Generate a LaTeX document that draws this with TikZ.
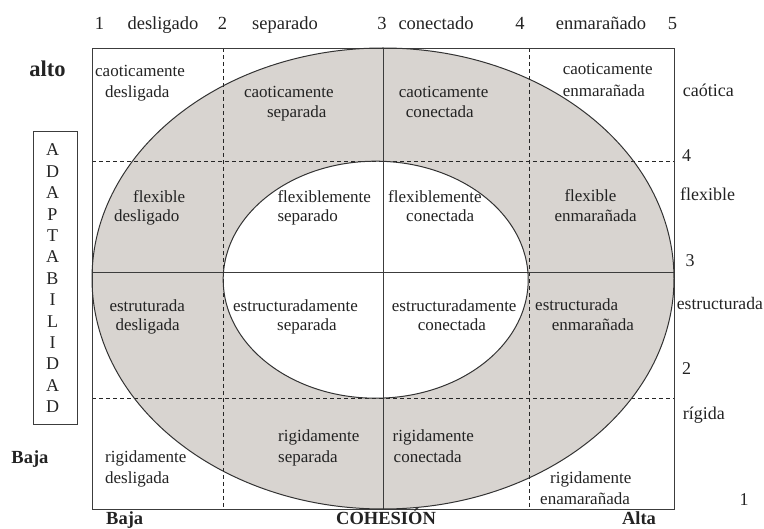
\documentclass[tikz,border=0pt]{standalone}
\usepackage{fontspec}
\setmainfont{Liberation Serif}
\definecolor{ringgray}{RGB}{216,212,208}
\definecolor{linegray}{RGB}{60,60,60}
\definecolor{txtgray}{RGB}{35,35,35}
\newcommand\mycell[8]{%
  \node[celltxt] (#1a) at (#2+#3,#7) {#4};
  \node[celltxt] (#1b) at (#2+#5,#8) {#6};}
\begin{document}
\begin{tikzpicture}[x=1pt,y=-1pt,
  celltxt/.style={anchor=base west, inner sep=0pt, text=txtgray, font=\fontsize{17}{20}\selectfont},
  toplbl/.style={anchor=base, inner sep=0pt, text=txtgray, font=\fontsize{18.5}{22}\selectfont},
  sidelbl/.style={anchor=base west, inner sep=0pt, text=txtgray, font=\fontsize{18}{22}\selectfont},
  sidenum/.style={anchor=base, inner sep=0pt, text=txtgray, font=\fontsize{18}{22}\selectfont},
  boldlbl/.style={anchor=base, inner sep=0pt, text=txtgray, font=\fontsize{18.5}{22}\selectfont\bfseries},
  gridsolid/.style={linegray, line width=0.9pt},
  griddash/.style={black!85, line width=0.9pt, dash pattern=on 4pt off 3pt},
  ringline/.style={black!80, line width=1pt}]
\useasboundingbox (0,0) rectangle (764,529);
% grid coordinates
\coordinate (TL) at (92,48);
\coordinate (BR) at (674.5,509);
\coordinate (v1t) at (223.5,48);  \coordinate (v1b) at (223.5,509);
\coordinate (v2t) at (383,48);    \coordinate (v2b) at (383,509);
\coordinate (v3t) at (529,48);    \coordinate (v3b) at (529,509);
\coordinate (h1l) at (92,161.5);  \coordinate (h1r) at (674.5,161.5);
\coordinate (h2l) at (92,272);    \coordinate (h2r) at (674.5,272);
\coordinate (h3l) at (92,398);    \coordinate (h3r) at (674.5,398);
% ring
\fill[ringgray, even odd rule] (383,278.5) ellipse [x radius=291pt, y radius=230.5pt]
  (375.7,279.7) ellipse [x radius=152.5pt, y radius=118.5pt];
% grid lines
\draw[griddash] (v1t) -- (v1b);
\draw[griddash] (v3t) -- (v3b);
\draw[griddash] (h1l) -- (h1r);
\draw[griddash] (h3l) -- (h3r);
\draw[gridsolid] (v2t) -- (v2b);
\draw[gridsolid] (h2l) -- (h2r);
\draw[gridsolid] (TL) rectangle (BR);
% ellipse outlines
\draw[ringline] (383,278.5) ellipse [x radius=291pt, y radius=230.5pt];
\draw[ringline] (375.7,279.7) ellipse [x radius=152.5pt, y radius=118.5pt];
% cells
\mycell{cd}{95}{0}{caoticamente}{10}{desligada}{77}{98}
\mycell{cs}{243.8}{0}{caoticamente}{23}{separada}{98}{118}
\mycell{cc}{398.6}{0}{caoticamente}{7}{conectada}{98}{118}
\mycell{ce}{562.7}{0}{caoticamente}{0}{enmarañada}{75}{97}
\mycell{fd}{114}{19}{flexible}{0}{desligado}{203}{222}
\mycell{fs}{277.3}{0}{flexiblemente}{0}{separado}{203}{222}
\mycell{fc}{388}{0}{flexiblemente}{18}{conectada}{203}{222}
\mycell{fe}{554.3}{10}{flexible}{0}{enmarañada}{202}{222}
\mycell{ed}{109.3}{0}{estruturada}{6}{desligada}{312}{331}
\mycell{es}{233}{0}{estructuradamente}{44}{separada}{312}{331}
\mycell{ec}{391.7}{0}{estructuradamente}{26}{conectada}{312}{331}
\mycell{ee}{535}{0}{estructurada}{16.7}{enmarañada}{311}{331}
\mycell{rd}{105}{0}{rigidamente}{0}{desligada}{463}{484}
\mycell{rs}{278}{0}{rigidamente}{0}{separada}{442}{463}
\mycell{rc}{392.5}{0}{rigidamente}{1}{conectada}{442}{463}
\mycell{re}{540}{10}{rigidamente}{0}{enamarañada}{484}{505}
% top scale
\node[toplbl] (t1) at (99.5,30) {1};
\node[toplbl] (tdes) at (163,30) {desligado};
\node[toplbl] (t2) at (222.5,30) {2};
\node[toplbl] (tsep) at (285,30) {separado};
\node[toplbl] (t3) at (382,30) {3};
\node[toplbl] (tcon) at (436,30) {conectado};
\node[toplbl] (t4) at (520,30) {4};
\node[toplbl] (tenm) at (601,30) {enmarañado};
\node[toplbl] (t5) at (672.5,30) {5};
% right scale
\node[sidelbl] (rcao) at (682.7,97) {caótica};
\node[sidenum] (r4) at (686.6,162) {4};
\node[sidelbl] (rflex) at (680,201) {flexible};
\node[sidenum] (r3) at (690,267) {3};
\node[sidelbl, font=\fontsize{17.6}{22}\selectfont] (rest) at (676.7,310) {estructurada};
\node[sidenum] (r2) at (686.6,375) {2};
\node[sidelbl] (rrig) at (682.7,420) {rígida};
\node[sidenum] (r1) at (744,506) {1};
% bold labels
\node[boldlbl, font=\fontsize{22.5}{26}\selectfont\bfseries] (alto) at (47.5,77) {alto};
\node[boldlbl] (bajaL) at (30,464) {Baja};
\node[boldlbl] (bajaB) at (124.7,525) {Baja};
\node[boldlbl] (cohesion) at (386,525) {COHESIÓN};
\node[boldlbl] (alta) at (639,525) {Alta};
% ADAPTABILIDAD
\node[draw=linegray, line width=0.9pt, minimum width=44pt, minimum height=293.3pt, inner sep=0pt] (adaptbox) at (55.3,278.3) {};
\foreach \ch [count=\i from 0] in {A,D,A,P,T,A,B,I,L,I,D,A,D} {
  \node[sidenum] (L\i) at (52.5,156+21.4*\i) {\ch};
}
\end{tikzpicture}
\end{document}
